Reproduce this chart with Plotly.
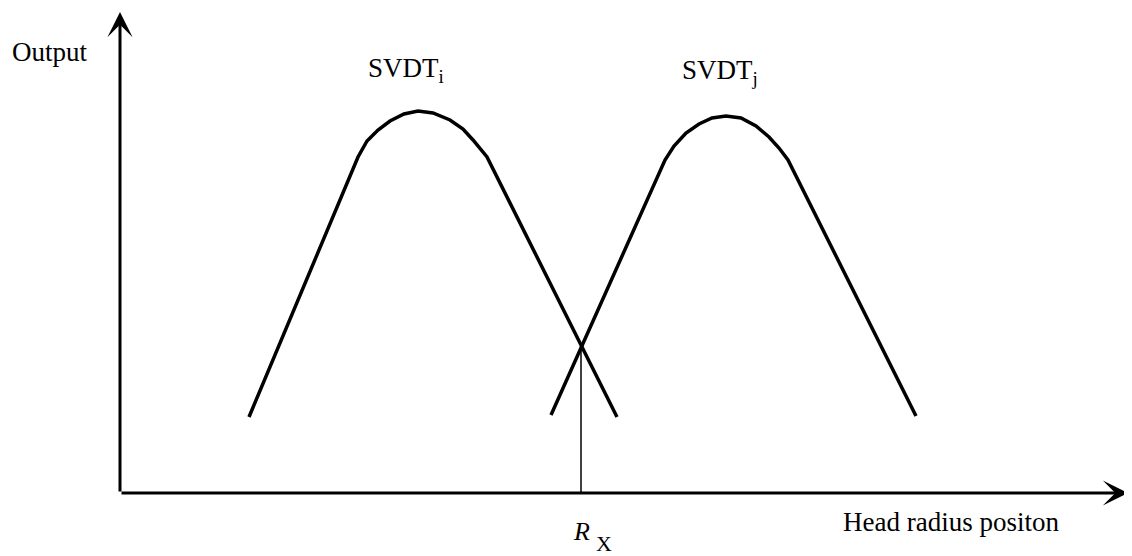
import plotly.graph_objects as go

# Coordinates, origin at the axes' corner (x right, y up)
OX, OY = 120, 493  # corner position used only to convert read-off pixel positions
PAGE = 8           # default page margin of the html body

# Curve SVDT_i
svdt_i_x = [249, 358, 367, 378, 390, 404, 418, 433, 450, 463, 473, 487, 617]
svdt_i_y = [417, 157, 141, 130, 121, 114, 111, 113, 120, 129, 140, 157, 417]

# Curve SVDT_j
svdt_j_x = [551, 665, 674, 686, 699, 712, 726, 741, 756, 769, 779, 788, 916]
svdt_j_y = [415, 160, 146, 133, 124, 118, 116, 118, 126, 137, 148, 160, 416]

# Crossing position R_x
rx_x = [581, 581]
rx_y = [346, 493]

# Axis extents
y_axis_top = 12
x_axis_right = 1128

def cx(v):
    return [p - OX for p in v]

def cy(v):
    return [OY - p for p in v]

FONT = "Liberation Serif, Times New Roman, serif"

fig = go.Figure()
fig.add_trace(go.Scatter(x=cx(svdt_i_x), y=cy(svdt_i_y), mode="lines",
                         line=dict(color="black", width=3.5), hoverinfo="skip"))
fig.add_trace(go.Scatter(x=cx(svdt_j_x), y=cy(svdt_j_y), mode="lines",
                         line=dict(color="black", width=3.5), hoverinfo="skip"))
fig.add_trace(go.Scatter(x=cx(rx_x), y=cy(rx_y), mode="lines",
                         line=dict(color="black", width=1.5), hoverinfo="skip"))

# Axes with arrow heads
fig.add_annotation(x=0, y=OY - y_axis_top, ax=0, ay=0, xref="x", yref="y",
                   axref="x", ayref="y", text="", showarrow=True,
                   arrowhead=3, arrowsize=1.4, arrowwidth=3, arrowcolor="black")
fig.add_annotation(x=x_axis_right - OX, y=0, ax=0, ay=0, xref="x", yref="y",
                   axref="x", ayref="y", text="", showarrow=True,
                   arrowhead=3, arrowsize=1.4, arrowwidth=3, arrowcolor="black")

def label(text, px, py, size=27, anchor="left"):
    fig.add_annotation(x=px - OX, y=OY - py, text=text, showarrow=False,
                       xanchor=anchor, yanchor="middle",
                       font=dict(family=FONT, size=size, color="black"))

label("Output", 10, 52)
label("SVDT<sub>i</sub>", 366, 70)
label("SVDT<sub>j</sub>", 680, 72)
label("Head radius positon", 841, 522)
label("<i>R</i>", 571, 531, size=26)
label("X", 594, 543, size=22)

fig.update_layout(
    width=1132 - PAGE, height=556 - PAGE,
    margin=dict(l=0, r=0, t=0, b=0),
    paper_bgcolor="white", plot_bgcolor="white",
    showlegend=False,
    xaxis=dict(range=[PAGE - OX, 1132 - OX], visible=False, fixedrange=True),
    yaxis=dict(range=[OY - 556, OY - PAGE], visible=False, fixedrange=True),
)

fig.write_html("out.html")
